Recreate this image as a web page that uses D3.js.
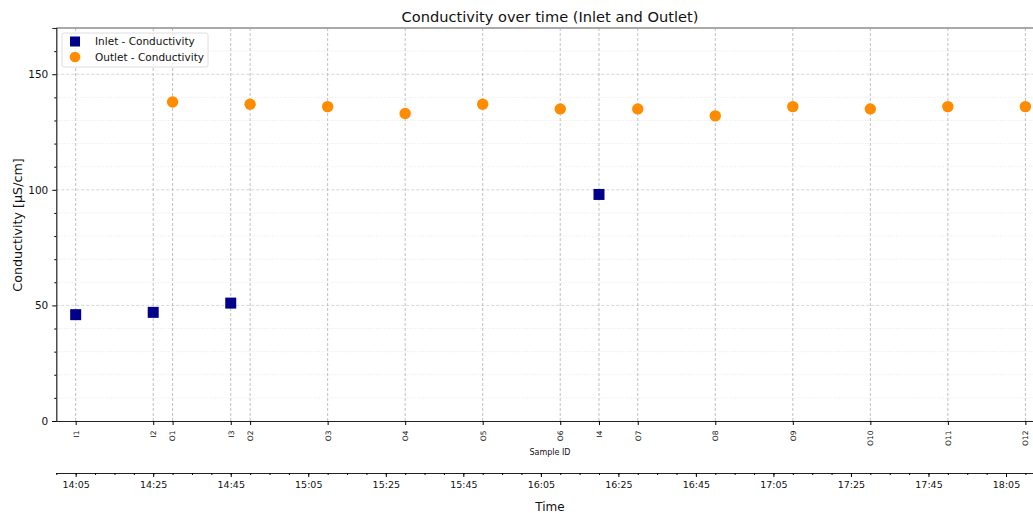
<!DOCTYPE html>
<html>
<head>
<meta charset="utf-8">
<script src="https://cdn.jsdelivr.net/npm/d3@7"></script>
<style>
  body { margin: 0; background: #fff; }
  svg { font-family: "DejaVu Sans", sans-serif; }
</style>
</head>
<body>
<svg id="chart" width="1033" height="513"></svg>
<script>
// Sample identifiers and their sampling times (HH:MM)
const inletIds = ["I1", "I2", "I3", "I4"];
const inletTimes = ["14:05", "14:25", "14:45", "16:20"];
const inletValues = [46, 47, 51, 98];

const outletIds = ["O1", "O2", "O3", "O4", "O5", "O6", "O7", "O8", "O9", "O10", "O11", "O12"];
const outletTimes = ["14:30", "14:50", "15:10", "15:30", "15:50", "16:10", "16:30", "16:50", "17:10", "17:30", "17:50", "18:10"];
const outletValues = [138, 137, 136, 133, 137, 135, 135, 132, 136, 135, 136, 136];

const yTicks = [0, 50, 100, 150];
const timeTickLabels = ["14:05", "14:25", "14:45", "15:05", "15:25", "15:45", "16:05", "16:25", "16:45", "17:05", "17:25", "17:45", "18:05"];

const parseT = d3.timeParse("%H:%M");

const svg = d3.select("#chart");
const margin = { left: 56.3, top: 28, right: 1044, bottom: 421 };

const x = d3.scaleTime()
  .domain([parseT("14:00"), d3.timeSecond.offset(parseT("18:14"), 48)])
  .range([margin.left, margin.right]);
const y = d3.scaleLinear().domain([0, 170]).range([margin.bottom, margin.top]);

const inlet = inletIds.map((id, i) => ({ id, t: parseT(inletTimes[i]), v: inletValues[i] }));
const outlet = outletIds.map((id, i) => ({ id, t: parseT(outletTimes[i]), v: outletValues[i] }));
const samples = inlet.concat(outlet).sort((a, b) => a.t - b.t);

const plot = svg.append("g");

// Horizontal grid: minor dotted every 10, major dashed every 50
plot.append("g").selectAll("line")
  .data(d3.range(10, 170, 10).filter(v => v % 50 !== 0))
  .join("line")
  .attr("x1", margin.left).attr("x2", margin.right)
  .attr("y1", d => y(d)).attr("y2", d => y(d))
  .attr("stroke", "#e3e3e3").attr("stroke-width", 0.8)
  .attr("stroke-dasharray", "1,1.6");
plot.append("g").selectAll("line")
  .data(yTicks.filter(v => v > 0))
  .join("line")
  .attr("x1", margin.left).attr("x2", margin.right)
  .attr("y1", d => y(d)).attr("y2", d => y(d))
  .attr("stroke", "#cccccc").attr("stroke-width", 0.8)
  .attr("stroke-dasharray", "3,2");

// Vertical grid at each sample
plot.append("g").selectAll("line")
  .data(samples)
  .join("line")
  .attr("x1", d => x(d.t)).attr("x2", d => x(d.t))
  .attr("y1", margin.top).attr("y2", margin.bottom)
  .attr("stroke", "#b0b0b0").attr("stroke-width", 0.8)
  .attr("stroke-dasharray", "3,2");

// Top spine
svg.append("line")
  .attr("x1", margin.left).attr("x2", margin.right)
  .attr("y1", margin.top).attr("y2", margin.top)
  .attr("stroke", "#8c8c8c").attr("stroke-width", 1.6);

// Y axis
const yAxis = svg.append("g")
  .attr("transform", `translate(${margin.left},0)`)
  .call(d3.axisLeft(y).tickValues(yTicks).tickSize(4).tickPadding(4));
yAxis.select(".domain").attr("stroke", "#222").attr("stroke-width", 1.2);
yAxis.selectAll("text").attr("font-size", 10.5).attr("fill", "#111").attr("font-family", "DejaVu Sans");
svg.append("g")
  .attr("transform", `translate(${margin.left},0)`)
  .call(d3.axisLeft(y).tickValues(d3.range(10, 170, 10).filter(v => v % 50 !== 0)).tickSize(2).tickFormat(""))
  .select(".domain").remove();

// Sample ID axis
const sampleAxis = svg.append("g")
  .attr("transform", `translate(0,${margin.bottom})`)
  .call(d3.axisBottom(x).tickValues(samples.map(d => d.t)).tickSize(4)
    .tickFormat((t, i) => samples[i].id));
sampleAxis.select(".domain").attr("stroke", "#222").attr("stroke-width", 1.2)
  .attr("d", `M${margin.left},0.5H${margin.right}`);
sampleAxis.selectAll("text")
  .attr("font-size", 7.5).attr("fill", "#111").attr("font-family", "DejaVu Sans")
  .attr("transform", "rotate(-90)")
  .attr("text-anchor", "end")
  .attr("x", -9.5).attr("y", 0).attr("dy", "0.32em");

svg.append("text")
  .attr("x", 550).attr("y", 455)
  .attr("text-anchor", "middle").attr("font-size", 8).attr("fill", "#111")
  .text("Sample ID");

// Time axis
const timeY = 473;
const timeAxis = svg.append("g")
  .attr("transform", `translate(0,${timeY})`)
  .call(d3.axisBottom(x).tickValues(timeTickLabels.map(parseT)).tickSize(4).tickPadding(4)
    .tickFormat(d3.timeFormat("%H:%M")));
timeAxis.select(".domain").attr("stroke", "#222").attr("stroke-width", 1.2)
  .attr("d", `M${margin.left},0.5H${margin.right}`);
timeAxis.selectAll("text").attr("font-size", 9.5).attr("fill", "#111").attr("font-family", "DejaVu Sans");
svg.append("g")
  .attr("transform", `translate(0,${timeY})`)
  .call(d3.axisBottom(x).ticks(d3.timeMinute.every(5)).tickSize(2).tickFormat(""))
  .select(".domain").remove();

svg.append("text")
  .attr("x", 550).attr("y", 511)
  .attr("text-anchor", "middle").attr("font-size", 12).attr("fill", "#111")
  .text("Time");

// Y label
svg.append("text")
  .attr("transform", "translate(22,225) rotate(-90)")
  .attr("text-anchor", "middle").attr("font-size", 12.7).attr("fill", "#111")
  .text("Conductivity [µS/cm]");

// Title
svg.append("text")
  .attr("x", 550).attr("y", 22)
  .attr("text-anchor", "middle").attr("font-size", 14.6).attr("fill", "#111")
  .text("Conductivity over time (Inlet and Outlet)");

// Markers
const sq = 11;
svg.append("g").selectAll("rect")
  .data(inlet)
  .join("rect")
  .attr("x", d => x(d.t) - sq / 2).attr("y", d => y(d.v) - sq / 2)
  .attr("width", sq).attr("height", sq)
  .attr("fill", "#00008b");
svg.append("g").selectAll("circle")
  .data(outlet)
  .join("circle")
  .attr("cx", d => x(d.t)).attr("cy", d => y(d.v))
  .attr("r", 5.7)
  .attr("fill", "#ff8c00");

// Legend
const lg = svg.append("g").attr("transform", "translate(62,33)");
lg.append("rect")
  .attr("width", 146).attr("height", 34).attr("rx", 2)
  .attr("fill", "#fff").attr("fill-opacity", 0.8)
  .attr("stroke", "#d5d5d5").attr("stroke-width", 0.8);
lg.append("rect").attr("x", 8).attr("y", 3.5).attr("width", 10).attr("height", 10).attr("fill", "#00008b");
lg.append("circle").attr("cx", 13).attr("cy", 24).attr("r", 5.3).attr("fill", "#ff8c00");
lg.append("text").attr("x", 33).attr("y", 12).attr("font-size", 10.5).attr("fill", "#111").text("Inlet - Conductivity");
lg.append("text").attr("x", 33).attr("y", 28).attr("font-size", 10.5).attr("fill", "#111").text("Outlet - Conductivity");
</script>
</body>
</html>
